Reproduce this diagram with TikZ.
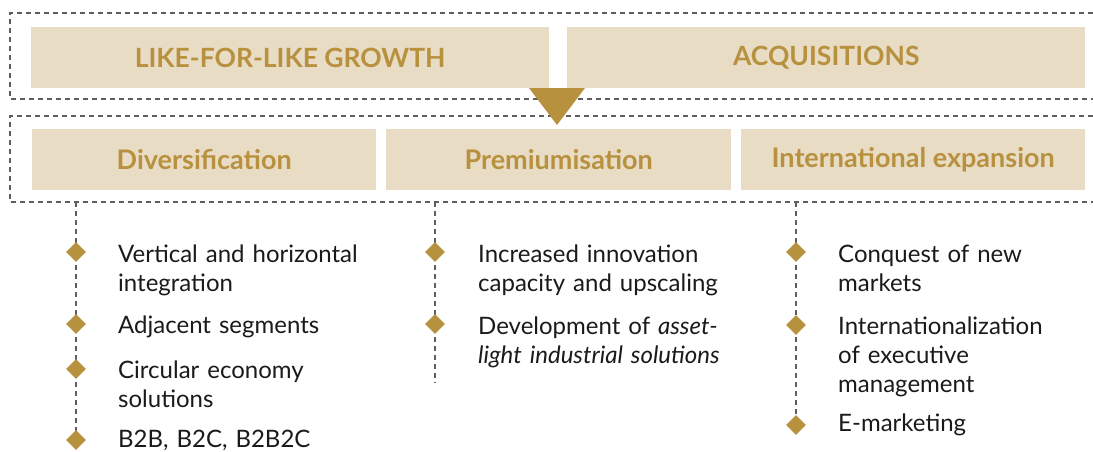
\documentclass[tikz,border=0pt]{standalone}
\usepackage{fontspec}
\setmainfont{Lato}
\usetikzlibrary{shapes.geometric}
\definecolor{sand}{HTML}{E8DCC5}
\definecolor{gold}{HTML}{B8913F}
\definecolor{dashgrey}{HTML}{5E5E5E}
\definecolor{ink}{HTML}{1A1A1A}
\begin{document}
\begin{tikzpicture}[x=1pt,y=-1pt,
  band/.style={fill=sand, draw=none, inner sep=0, minimum height=61pt, anchor=north west, text=gold},
  topband/.style={band, font=\bfseries\fontsize{26.5}{30}\selectfont},
  pillar/.style={band, font=\bfseries\fontsize{27}{30}\selectfont},
  frame/.style={draw=dashgrey, line width=1.2pt, dash pattern=on 5pt off 4pt},
  bullet/.style={diamond, fill=gold, inner sep=0, minimum size=20pt},
  item/.style={anchor=base west, inner sep=0, text width=300pt, align=left,
    font=\fontsize{24}{29}\selectfont, text=ink},
]
\useasboundingbox (0,0) rectangle (1093,451);

% dashed frames, open to the right
\draw[frame] (1093,13) -| (10,99) -- (1093,99);
\draw[frame] (1093,116) -| (10,202) -- (1093,202);

% growth drivers
\node[topband, minimum width=518pt] (lfl) at (31,27) {LIKE-FOR-LIKE GROWTH};
\node[topband, minimum width=518pt] (acq) at (567,27) {ACQUISITIONS};

% pointer between the two levels
\fill[gold] (529,88) -- (585,88) -- (557,125) -- cycle;

% strategic pillars
\node[pillar, minimum width=344pt] (div) at (32,129) {Diversification};
\node[pillar, minimum width=345pt] (prem) at (386,129) {Premiumisation};
\node[pillar, minimum width=344pt] (intl) at (741,129) {International expansion};

% column spines
\coordinate (s1) at (76,202);  \coordinate (e1) at (76,438);
\coordinate (s2) at (435,202); \coordinate (e2) at (435,383);
\coordinate (s3) at (796,202); \coordinate (e3) at (796,425);
\draw[frame] (s1) -- (e1);
\draw[frame] (s2) -- (e2);
\draw[frame] (s3) -- (e3);

% Diversification items
\node[bullet] (b11) at (76,252) {};
\node[bullet] (b12) at (76,324) {};
\node[bullet] (b13) at (76,369) {};
\node[bullet] (b14) at (76,440) {};
\node[item] (t11) at (118,262) {Vertical and horizontal\\integration};
\node[item] (t12) at (118,333) {Adjacent segments};
\node[item] (t13) at (118,378) {Circular economy\\solutions};
\node[item] (t14) at (118,447) {B2B, B2C, B2B2C};

% Premiumisation items
\node[bullet] (b21) at (435,252) {};
\node[bullet] (b22) at (435,324) {};
\node[item] (t21) at (478,262) {Increased innovation\\capacity and upscaling};
\node[item] (t22) at (478,334) {Development of \textit{asset-}\\\textit{light industrial solutions}};

% International expansion items
\node[bullet] (b31) at (796,252) {};
\node[bullet] (b32) at (796,325) {};
\node[bullet] (b33) at (796,425) {};
\node[item] (t31) at (838,262) {Conquest of new\\markets};
\node[item] (t32) at (838,334) {Internationalization\\of executive\\management};
\node[item] (t33) at (838,431) {E-marketing};
\end{tikzpicture}
\end{document}
